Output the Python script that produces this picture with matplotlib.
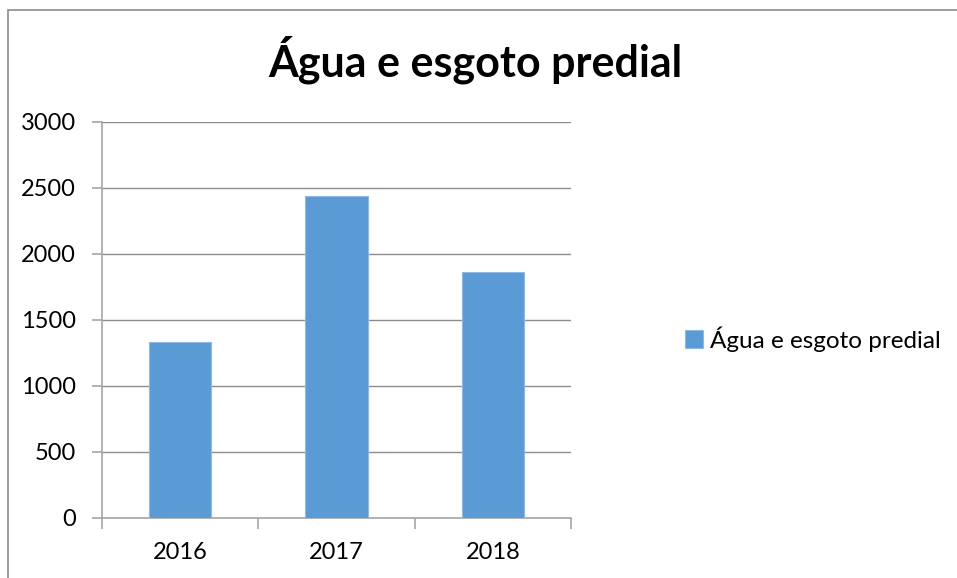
import numpy as np
import matplotlib.pyplot as plt
from matplotlib.patches import Rectangle

# data
years = ["2016", "2017", "2018"]
valores = [1332, 2437, 1862]
serie = "Água e esgoto predial"
yticks = [0, 500, 1000, 1500, 2000, 2500, 3000]

plt.rcParams['font.family'] = ['Lato', 'DejaVu Sans']

fig = plt.figure(figsize=(9.57, 5.78), dpi=100)

# outer chart frame (cut off on the right and bottom)
fig.patches.append(Rectangle((8 / 957, -0.1), 1.2, 1 - 10 / 578 + 0.1,
                             transform=fig.transFigure, fill=False,
                             edgecolor="#8c8c8c", linewidth=1.2))

ax = fig.add_axes([102 / 957, 60 / 578, (571 - 102) / 957, (518 - 122) / 578])

x = np.arange(len(years))
ax.bar(x, valores, width=0.4, color="#5b9bd5", edgecolor="#8fb8e3",
       linewidth=0.8, label=serie, zorder=3)

ax.set_xlim(-0.5, len(years) - 0.5)
ax.set_ylim(0, 3000)
ax.set_yticks(yticks)
ax.set_yticklabels([str(v) for v in yticks], fontsize=17)
ax.set_xticks(np.arange(-0.5, len(years), 1.0))
ax.set_xticklabels([])
ax.set_xticks(x, minor=True)
ax.set_xticklabels(years, minor=True, fontsize=17)
ax.tick_params(axis='x', which='minor', length=0, pad=17)
ax.tick_params(axis='x', which='major', length=8, color="#a6a6a6", width=1.2)
ax.tick_params(axis='y', length=7, color="#a6a6a6", width=1.2, pad=12)

ax.grid(axis='y', color="#8c8c8c", linewidth=1.0, zorder=0)
for s in ['top', 'right']:
    ax.spines[s].set_visible(False)
for s in ['left', 'bottom']:
    ax.spines[s].set_color("#a6a6a6")
    ax.spines[s].set_linewidth(1.2)

fig.text(475 / 957, 1 - 60 / 578, serie, ha='center', va='center',
         fontsize=31, fontweight='bold')

ax.legend(loc='center left', bbox_to_anchor=(1.243, 0.452), frameon=False,
          fontsize=17.5, handlelength=0.75, handleheight=0.75, handletextpad=0.3,
          borderpad=0, borderaxespad=0)

fig.savefig("out.png", dpi=100)
